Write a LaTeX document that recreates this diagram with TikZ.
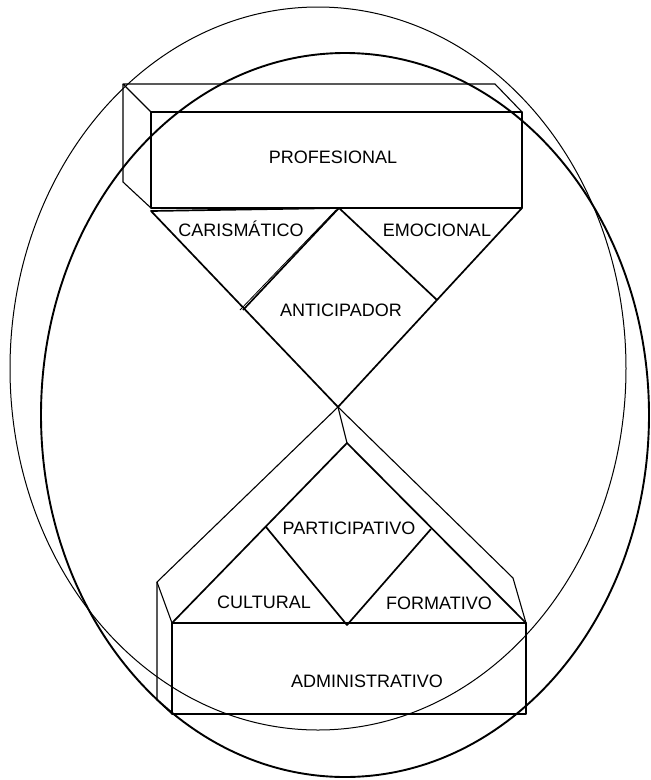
\documentclass[tikz,border=0pt]{standalone}
\usepackage{fontspec}
\setmainfont{Liberation Sans}
\begin{document}
\begin{tikzpicture}[x=1pt,y=-1pt,line join=round,
  thinring/.style={line width=1pt},
  thickring/.style={line width=1.9pt},
  boxline/.style={line width=1.1pt},
  shapeline/.style={line width=1.7pt},
  lbl/.style={font=\fontsize{18}{20}\selectfont, inner sep=0pt}]
\useasboundingbox (0,0) rectangle (651,780);
% ellipses
\draw[thinring] (318,368.5) ellipse [x radius=308, y radius=361.5];
\draw[thickring] (345,415) ellipse [x radius=304, y radius=362];
% top box coordinates
\coordinate (bTL) at (123,84);
\coordinate (bTR) at (495,84);
\coordinate (fTL) at (151,112);
\coordinate (fTR) at (522,112);
\coordinate (fBL) at (151,208);
\coordinate (fBR) at (522,208);
\coordinate (bBL) at (123,182);
% top box
\draw[boxline] (bTL) -- (bTR) -- (fTR) -- (fTL) -- cycle;
\draw[boxline] (bTL) -- (bBL) -- (fBL);
\draw[boxline] (fTL) rectangle (fBR);
% upper triangle
\coordinate (tL) at (151,211);
\coordinate (tM) at (339,208);
\coordinate (tR) at (522,208);
\coordinate (J) at (338,407);
\coordinate (dL) at (243,310);
\coordinate (dR) at (437,300);
\coordinate (tM2) at (336,210);
\coordinate (dL2) at (240,310);
\draw[shapeline] (tL) -- (tM) -- (tR) -- (J) -- cycle;
\draw[shapeline] (tM) -- (dL);
\draw[shapeline] (tM) -- (dR);
\draw[line width=0.8pt] (tM2) -- (dL2);
% bottom roof
\coordinate (rL) at (157,582);
\coordinate (rR) at (513,578);
\coordinate (pA) at (347,443);
\coordinate (gTL) at (172,623);
\coordinate (gTR) at (526,623);
\coordinate (gBL) at (172,714);
\coordinate (gBR) at (526,714);
\coordinate (gBk) at (157,700);
\coordinate (pM) at (347,625);
\coordinate (pDL) at (266,527);
\coordinate (pDR) at (431,529);
\draw[boxline] (J) -- (rL) -- (gTL);
\draw[boxline] (rL) -- (gBk) -- (gBL);
\draw[boxline] (J) -- (rR) -- (gTR);
\draw[boxline] (J) -- (pA);
\draw[boxline] (gTL) rectangle (gBR);
\draw[shapeline] (pA) -- (gTL) -- (gTR) -- cycle;
\draw[shapeline] (pDL) -- (pM) -- (pDR);
% labels
\node[lbl] (prof) at (333,157) {PROFESIONAL};
\node[lbl] (caris) at (241,229) {CARISMÁTICO};
\node[lbl] (emoc) at (437,230) {EMOCIONAL};
\node[lbl] (antic) at (341,310) {ANTICIPADOR};
\node[lbl] (parti) at (349,528) {PARTICIPATIVO};
\node[lbl] (cult) at (264,602) {CULTURAL};
\node[lbl] (form) at (439,603) {FORMATIVO};
\node[lbl] (admin) at (367,681) {ADMINISTRATIVO};
\end{tikzpicture}
\end{document}
